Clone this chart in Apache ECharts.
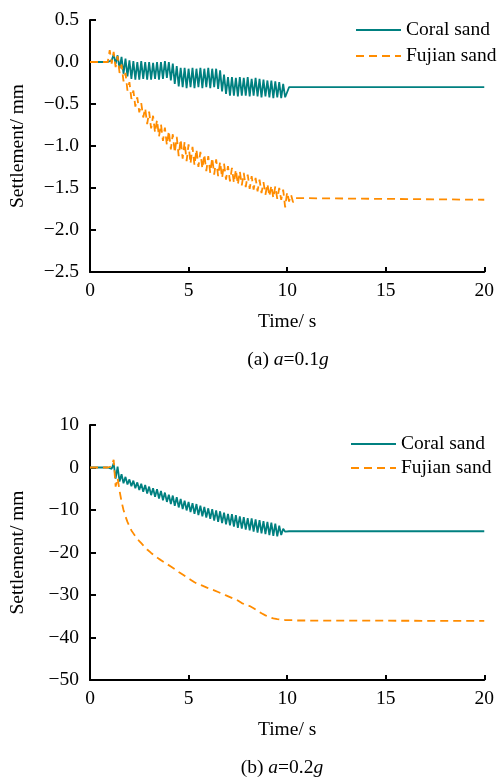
<!DOCTYPE html>
<html>
<head>
<meta charset="utf-8">
<script src="https://cdn.jsdelivr.net/npm/echarts@6/dist/echarts.min.js"></script>
<style>
html,body{margin:0;padding:0;background:#fff;}
#c{width:497px;height:778px;}
</style>
</head>
<body>
<div id="c"></div>
<script>
// Time stamps (s)
var times = [0, 0.9, 1.0, 1.1, 1.2, 1.3, 1.4, 1.5, 1.6, 1.7,
  1.8, 1.9, 2.0, 2.1, 2.2, 2.3, 2.4, 2.5, 2.6, 2.7,
  2.8, 2.9, 3.0, 3.1, 3.2, 3.3, 3.4, 3.5, 3.6, 3.7,
  3.8, 3.9, 4.0, 4.1, 4.2, 4.3, 4.4, 4.5, 4.6, 4.7,
  4.8, 4.9, 5.0, 5.1, 5.2, 5.3, 5.4, 5.5, 5.6, 5.7,
  5.8, 5.9, 6.0, 6.1, 6.2, 6.3, 6.4, 6.5, 6.6, 6.7,
  6.8, 6.9, 7.0, 7.1, 7.2, 7.3, 7.4, 7.5, 7.6, 7.7,
  7.8, 7.9, 8.0, 8.1, 8.2, 8.3, 8.4, 8.5, 8.6, 8.7,
  8.8, 8.9, 9.0, 9.1, 9.2, 9.3, 9.4, 9.5, 9.6, 9.7,
  9.8, 9.9, 10.0, 10.1, 10.2, 10.3, 10.4, 10.5, 20];

// (a) a=0.1g settlement (mm)
var coralA = [0, 0, 0, 0.02, 0.09, -0.02, 0.08, -0.08, 0.06, -0.14,
  0.04, -0.17, 0.02, -0.20, 0.01, -0.21, 0.00, -0.21, 0.01, -0.20,
  0.00, -0.21, 0.00, -0.21, -0.01, -0.20, 0.00, -0.21, 0.00, -0.20,
  0.01, -0.19, 0.00, -0.22, -0.02, -0.26, -0.05, -0.29, -0.07, -0.30,
  -0.07, -0.31, -0.08, -0.30, -0.07, -0.31, -0.08, -0.30, -0.07, -0.31,
  -0.08, -0.30, -0.07, -0.31, -0.08, -0.30, -0.08, -0.32, -0.10, -0.35,
  -0.15, -0.38, -0.18, -0.40, -0.18, -0.40, -0.19, -0.41, -0.18, -0.40,
  -0.19, -0.40, -0.18, -0.41, -0.20, -0.40, -0.19, -0.41, -0.20, -0.42,
  -0.21, -0.41, -0.22, -0.42, -0.22, -0.43, -0.23, -0.42, -0.24, -0.43,
  -0.26, -0.42, -0.36, -0.30, -0.30, -0.30, -0.30, -0.30, -0.30];
var fujianA = [0, 0.00, 0.14, -0.02, 0.12, -0.06, 0.07, -0.13, -0.03, -0.23,
  -0.13, -0.34, -0.24, -0.44, -0.34, -0.53, -0.42, -0.60, -0.49, -0.66,
  -0.55, -0.74, -0.59, -0.79, -0.64, -0.84, -0.69, -0.89, -0.74, -0.94,
  -0.78, -0.99, -0.82, -1.04, -0.86, -1.08, -0.89, -1.12, -0.92, -1.15,
  -0.95, -1.18, -0.98, -1.21, -1.01, -1.23, -1.04, -1.25, -1.07, -1.27,
  -1.10, -1.30, -1.12, -1.32, -1.14, -1.34, -1.16, -1.36, -1.19, -1.38,
  -1.21, -1.40, -1.24, -1.42, -1.26, -1.44, -1.28, -1.46, -1.30, -1.47,
  -1.32, -1.49, -1.34, -1.51, -1.36, -1.52, -1.38, -1.54, -1.40, -1.56,
  -1.43, -1.58, -1.45, -1.60, -1.47, -1.62, -1.48, -1.63, -1.50, -1.64,
  -1.52, -1.73, -1.55, -1.66, -1.58, -1.67, -1.62, -1.64, -1.64];

// (b) a=0.2g settlement (mm)
var coralB = [0, 0, 0, -0.3, 1.0, -2.6, 0.2, -3.3, -1.6, -3.7,
  -2.2, -4.0, -2.8, -4.4, -3.1, -4.9, -3.5, -5.3, -3.8, -5.7,
  -4.1, -6.1, -4.5, -6.5, -4.9, -6.9, -5.1, -7.3, -5.5, -7.7,
  -5.9, -8.1, -6.4, -8.6, -6.6, -9.0, -7.0, -9.4, -7.4, -9.8,
  -7.8, -10.1, -8.1, -10.5, -8.4, -10.9, -8.6, -11.2, -9.0, -11.5,
  -9.3, -11.8, -9.6, -12.1, -9.8, -12.5, -10.1, -12.8, -10.3, -13.1,
  -10.6, -13.4, -10.9, -13.6, -11.0, -13.9, -11.2, -14.2, -11.5, -14.4,
  -11.7, -14.6, -11.9, -14.8, -12.0, -15.1, -12.2, -15.3, -12.4, -15.5,
  -12.6, -15.7, -12.8, -15.9, -13.0, -16.1, -13.2, -16.2, -13.7, -15.9,
  -14.4, -15.1, -14.9, -15.0, -15.0, -15.0, -15.0, -15.0, -15.0];
var fujianB = [0, 0, 0, 0.3, 1.8, -4.5, -2.5, -5.5, -8.0, -10.0,
  -11.5, -12.8, -13.8, -14.8, -15.5, -16.2, -16.8, -17.3, -17.8, -18.3,
  -18.8, -19.3, -19.7, -20.1, -20.4, -20.8, -21.1, -21.5, -21.8, -22.1,
  -22.3, -22.7, -23.0, -23.3, -23.6, -23.9, -24.3, -24.6, -24.9, -25.2,
  -25.5, -25.8, -26.1, -26.4, -26.7, -27.0, -27.2, -27.5, -27.6, -27.8,
  -28.0, -28.2, -28.4, -28.6, -28.8, -28.9, -29.1, -29.3, -29.5, -29.7,
  -29.9, -30.1, -30.3, -30.5, -30.6, -30.9, -31.1, -31.3, -31.6, -31.9,
  -32.1, -32.3, -32.6, -32.6, -32.8, -33.1, -33.4, -33.7, -34.0, -34.3,
  -34.6, -34.8, -35.0, -35.2, -35.3, -35.5, -35.6, -35.7, -35.8, -35.8,
  -35.9, -35.9, -35.9, -35.9, -35.9, -35.9, -36.0, -36.0, -36.1];

var seriesNames = ['Coral sand', 'Fujian sand'];
var xTicks = {min: 0, max: 20, interval: 5};
var yTicksA = {min: -2.5, max: 0.5, interval: 0.5};
var yTicksB = {min: -50, max: 10, interval: 10};
var xName = 'Time/ s';
var yName = 'Settlement/ mm';

var FONT = "'Liberation Serif','Times New Roman',serif";
var FS = 19.5;
var TEAL = '#008080';
var ORANGE = '#FF8C00';

function pairs(vals){ return times.map(function(t,i){ return [t, vals[i]]; }); }
function minus(s){ return String(s).replace('-', '\u2212'); }

function xAxis(gi){
  return {
    type: 'value', gridIndex: gi, min: xTicks.min, max: xTicks.max, interval: xTicks.interval,
    name: xName, nameLocation: 'middle', nameGap: 40,
    nameTextStyle: {fontFamily: FONT, fontSize: FS, color: '#000'},
    axisLine: {show: true, onZero: false, lineStyle: {color: '#000', width: 2}},
    axisTick: {show: true, inside: true, length: 5, lineStyle: {color: '#000', width: 2}},
    axisLabel: {fontFamily: FONT, fontSize: FS, color: '#000', margin: 9},
    splitLine: {show: false}
  };
}
function yAxis(gi, tk, dec){
  return {
    type: 'value', gridIndex: gi, min: tk.min, max: tk.max, interval: tk.interval,
    name: yName, nameLocation: 'middle', nameGap: 62,
    nameTextStyle: {fontFamily: FONT, fontSize: FS, color: '#000'},
    axisLine: {show: true, onZero: false, lineStyle: {color: '#000', width: 2}},
    axisTick: {show: true, inside: true, length: 6, lineStyle: {color: '#000', width: 2}},
    axisLabel: {fontFamily: FONT, fontSize: FS, color: '#000', margin: 11,
      formatter: function(v){ return minus(v.toFixed(dec)); }},
    splitLine: {show: false}
  };
}
function legend(left, top, gap){
  return {
    data: seriesNames, orient: 'vertical', left: left, top: top,
    itemWidth: 45, itemHeight: 14, itemGap: gap,
    itemStyle: {opacity: 0, borderWidth: 0},
    textStyle: {fontFamily: FONT, fontSize: FS, color: '#000'},
    selectedMode: false
  };
}
function line(name, xi, vals, color, dashed){
  return {
    name: name, type: 'line', xAxisIndex: xi, yAxisIndex: xi, data: pairs(vals),
    symbol: 'none', showSymbol: false, animation: false,
    lineStyle: {color: color, width: 1.8, type: dashed ? [8,5] : 'solid'},
    itemStyle: {color: color}
  };
}

var chart = echarts.init(document.getElementById('c'), null, {renderer: 'canvas'});
chart.setOption({
  backgroundColor: '#fff',
  animation: false,
  grid: [
    {left: 90, top: 20, width: 398, height: 252},
    {left: 88, top: 425, width: 399, height: 255}
  ],
  xAxis: [xAxis(0), xAxis(1)],
  yAxis: [yAxis(0, yTicksA, 1), yAxis(1, yTicksB, 0)],
  legend: [legend(350, 15, 6), legend(345, 429, 4)],
  series: [
    line(seriesNames[0], 0, coralA, TEAL, false),
    line(seriesNames[1], 0, fujianA, ORANGE, true),
    line(seriesNames[0], 1, coralB, TEAL, false),
    line(seriesNames[1], 1, fujianB, ORANGE, true)
  ],
  graphic: [
    {type: 'text', x: 288, y: 360, style: {
      text: '{n|(a) }{i|a}{n|=0.1}{i|g}', align: 'center', verticalAlign: 'middle',
      rich: {n: {fontFamily: FONT, fontSize: FS, fill: '#000'},
             i: {fontFamily: FONT, fontSize: FS, fontStyle: 'italic', fill: '#000'}}}},
    {type: 'text', x: 282, y: 768, style: {
      text: '{n|(b) }{i|a}{n|=0.2}{i|g}', align: 'center', verticalAlign: 'middle',
      rich: {n: {fontFamily: FONT, fontSize: FS, fill: '#000'},
             i: {fontFamily: FONT, fontSize: FS, fontStyle: 'italic', fill: '#000'}}}}
  ]
});
</script>
</body>
</html>
